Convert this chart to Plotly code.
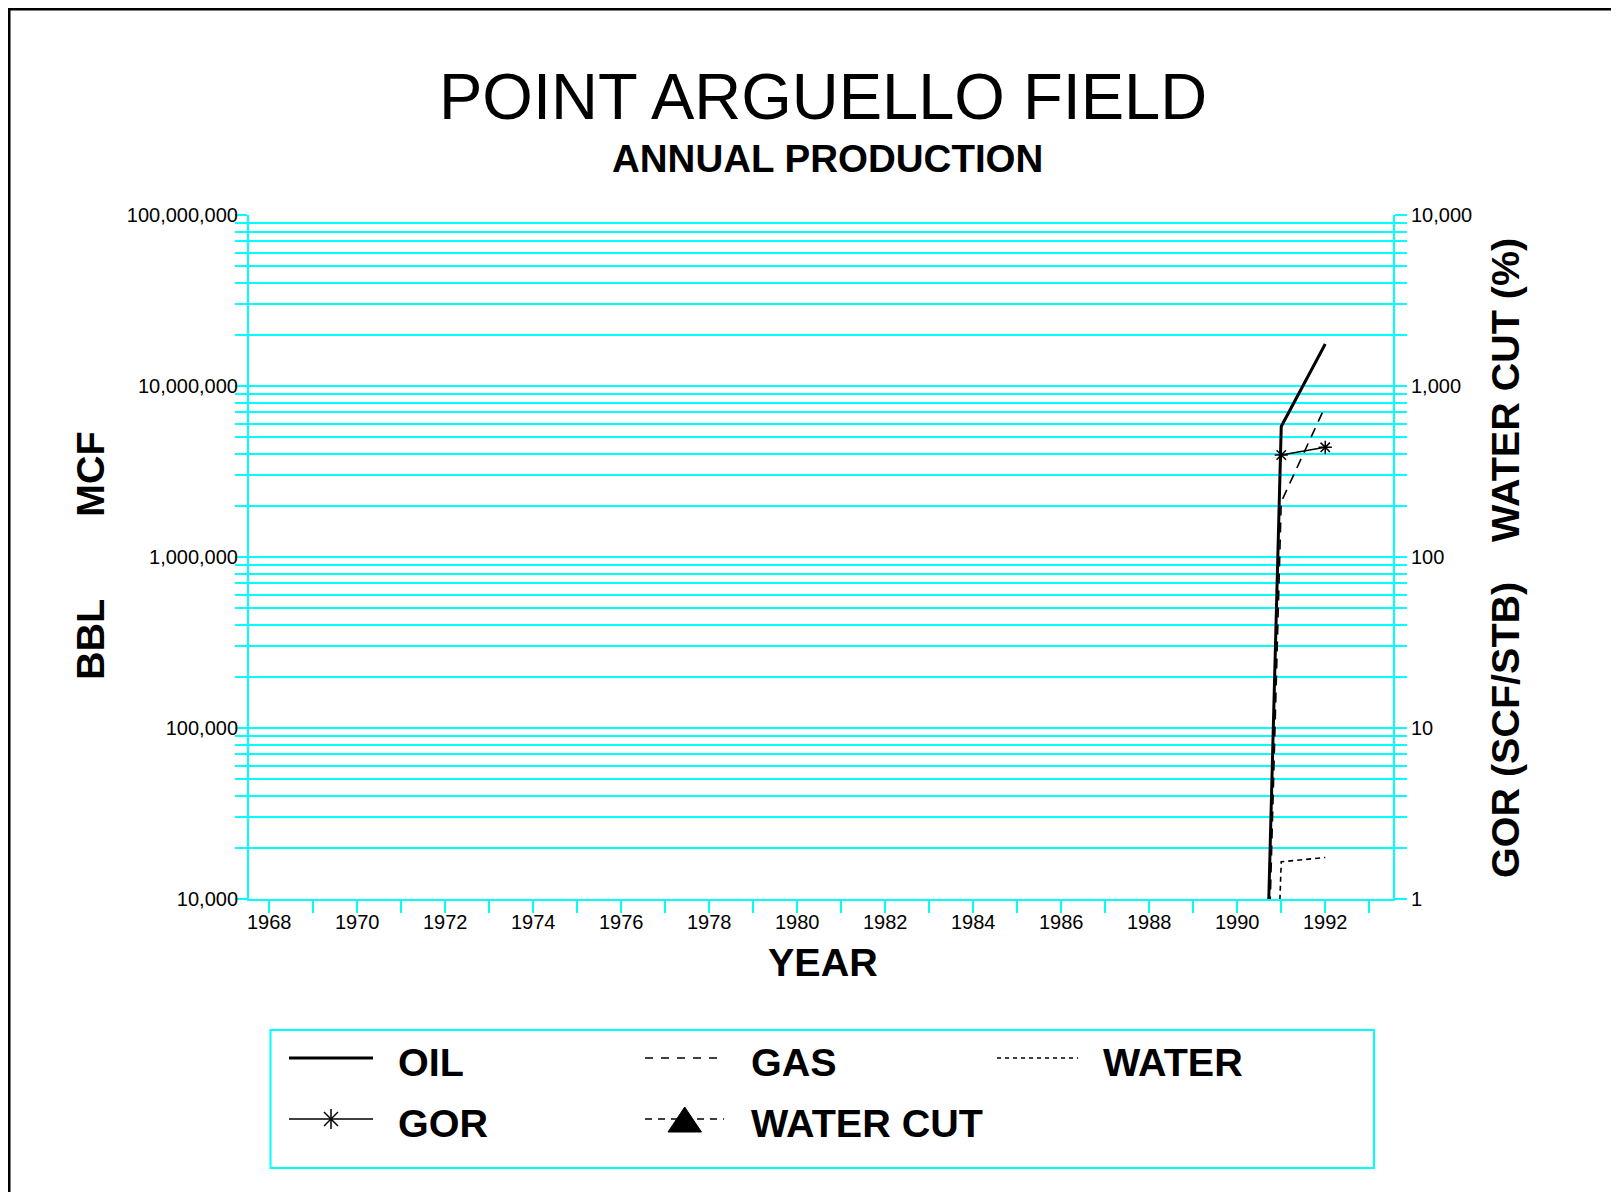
"""Point Arguello Field - annual production (log scale, dual axis)."""

import plotly.graph_objects as go

# ── Data ──
years = [1990, 1991, 1992]
oil_bbl = [0.001, 5.8e6, 1.76e7]
gas_mcf = [0.001, 2.1e6, 7.6e6]
water_bbl = [0.001, 1.65e4, 1.75e4]

gor_years = [1991, 1992]
gor_scf_stb = [395, 438]

# ── Axis ticks ──
year_ticks = list(range(1968, 1993, 2))
year_labels = [str(y) for y in year_ticks]
left_ticks = [1e4, 1e5, 1e6, 1e7, 1e8]
left_labels = ["10,000", "100,000", "1,000,000", "10,000,000", "100,000,000"]
right_ticks = [1, 10, 100, 1000, 10000]
right_labels = ["1", "10", "100", "1,000", "10,000"]
left_minor = [m * 10 ** e for e in range(4, 8) for m in range(2, 10)]
right_minor = [m * 10 ** e for e in range(0, 4) for m in range(2, 10)]

CYAN = "#00FFFF"
FONT = "Liberation Sans, Arial, sans-serif"

# plot area in page pixels (the page body adds an 8px margin)
FIG_W, FIG_H = 1619, 1192
PAGE = 8
L, R, T, B = 249, 1393, 215, 899


def px(x):
    return (x - L) / (R - L)


def py(y):
    return (B - y) / (B - T)


fig = go.Figure()

fig.add_trace(go.Scatter(
    x=years, y=oil_bbl, mode="lines", name="OIL",
    line=dict(color="black", width=3),
))
fig.add_trace(go.Scatter(
    x=years, y=gas_mcf, mode="lines", name="GAS",
    line=dict(color="black", width=1.6, dash="10px,7px"),
))
fig.add_trace(go.Scatter(
    x=years, y=water_bbl, mode="lines", name="WATER",
    line=dict(color="black", width=1.6, dash="5px,4px"),
))
fig.add_trace(go.Scatter(
    x=gor_years, y=gor_scf_stb, mode="lines+markers", name="GOR", yaxis="y2",
    line=dict(color="black", width=1.6),
    marker=dict(symbol="asterisk-open", size=11, color="black",
                line=dict(color="black", width=1.5)),
))

# ── Outer frame ──
fig.add_shape(type="rect", xref="paper", yref="paper",
              x0=px(8.5), x1=px(1660), y0=py(8.5), y1=py(1230),
              line=dict(color="black", width=4), fillcolor="rgba(0,0,0,0)")

# ── Titles ──
fig.add_annotation(x=px(823), y=py(97), xref="paper", yref="paper",
                   text="POINT ARGUELLO FIELD", showarrow=False,
                   font=dict(family=FONT, size=65, color="black"),
                   xanchor="center", yanchor="middle")
fig.add_annotation(x=px(827), y=py(158), xref="paper", yref="paper",
                   text="<b>ANNUAL PRODUCTION</b>", showarrow=False,
                   font=dict(family=FONT, size=38.5, color="black"),
                   xanchor="center", yanchor="middle")

# ── Axis titles ──
axis_titles = [
    ("YEAR", 823, 962, 0),
    ("MCF", 90, 474, -90),
    ("BBL", 90, 640, -90),
    ("WATER CUT (%)", 1505, 390, -90),
    ("GOR (SCF/STB)", 1505, 730, -90),
]
for text, x, y, ang in axis_titles:
    fig.add_annotation(x=px(x), y=py(y), xref="paper", yref="paper",
                       text=f"<b>{text}</b>", showarrow=False, textangle=ang,
                       font=dict(family=FONT, size=39.5, color="black"),
                       xanchor="center", yanchor="middle")

# ── Legend box (drawn by hand to match the original layout) ──
fig.add_shape(type="rect", xref="paper", yref="paper",
              x0=px(270.5), x1=px(1374), y0=py(1030), y1=py(1168),
              line=dict(color=CYAN, width=2), fillcolor="rgba(0,0,0,0)")

samples = [
    (289, 373, 1058, 3, "solid"),
    (289, 373, 1119, 1.5, "solid"),
    (645, 724, 1058, 1.5, "8px,8px"),
    (645, 724, 1119, 1.5, "7px,6px"),
    (997, 1078, 1058, 1.5, "4px,4px"),
]
for x0, x1, y, w, dash in samples:
    fig.add_shape(type="line", xref="paper", yref="paper",
                  x0=px(x0), x1=px(x1), y0=py(y), y1=py(y),
                  line=dict(color="black", width=w, dash=dash))

# asterisk for GOR sample
cx, cy, r = 331, 1119, 10
for dx0, dy0, dx1, dy1 in [(0, -r, 0, r), (-7, -7, 7, 7), (-7, 7, 7, -7)]:
    fig.add_shape(type="line", xref="paper", yref="paper",
                  x0=px(cx + dx0), y0=py(cy + dy0), x1=px(cx + dx1), y1=py(cy + dy1),
                  line=dict(color="black", width=1.5))

# triangle for WATER CUT sample
tri = (f"M {px(668)} {py(1132)} L {px(701.5)} {py(1132)} "
       f"L {px(684.7)} {py(1107)} Z")
fig.add_shape(type="path", xref="paper", yref="paper", path=tri,
              fillcolor="black", line=dict(color="black", width=1))

legend_labels = [
    ("OIL", 396, 1062),
    ("GOR", 396, 1123),
    ("GAS", 749, 1062),
    ("WATER CUT", 749, 1123),
    ("WATER", 1101, 1062),
]
for text, x, y in legend_labels:
    fig.add_annotation(x=px(x), y=py(y), xref="paper", yref="paper",
                       text=f"<b>{text}</b>", showarrow=False,
                       font=dict(family=FONT, size=39.5, color="black"),
                       xanchor="left", yanchor="middle")

# ── Layout ──
tick_font = dict(family=FONT, size=20, color="black")
fig.update_layout(
    width=FIG_W, height=FIG_H,
    margin=dict(l=L - PAGE, r=FIG_W - R + PAGE, t=T - PAGE, b=FIG_H - B + PAGE,
                autoexpand=False),
    paper_bgcolor="white", plot_bgcolor="white",
    showlegend=False,
    xaxis=dict(
        range=[1967.54, 1993.54], tickmode="array",
        tickvals=year_ticks, ticktext=year_labels,
        ticks="outside", ticklen=12, tickwidth=2, tickcolor=CYAN,
        minor=dict(dtick=1, tick0=1968, ticks="outside", ticklen=12,
                   tickwidth=2, tickcolor=CYAN, showgrid=False),
        showgrid=False, zeroline=False,
        showline=True, linecolor=CYAN, linewidth=2,
        tickfont=tick_font, ticklabelstandoff=-8,
    ),
    yaxis=dict(
        type="log", range=[4, 8], tickmode="array",
        tickvals=left_ticks, ticktext=left_labels,
        ticks="outside", ticklen=12, tickwidth=2, tickcolor=CYAN,
        showgrid=True, gridcolor=CYAN, gridwidth=1.5,
        minor=dict(tickmode="array", tickvals=left_minor, ticks="outside",
                   ticklen=12, tickwidth=2, tickcolor=CYAN,
                   showgrid=True, gridcolor=CYAN, gridwidth=1.5),
        showline=True, linecolor=CYAN, linewidth=2, zeroline=False,
        tickfont=tick_font, ticklabelstandoff=-7,
    ),
    yaxis2=dict(
        type="log", range=[0, 4], overlaying="y", side="right",
        tickmode="array", tickvals=right_ticks, ticktext=right_labels,
        ticks="outside", ticklen=12, tickwidth=2, tickcolor=CYAN,
        showgrid=False,
        minor=dict(tickmode="array", tickvals=right_minor, ticks="outside",
                   ticklen=12, tickwidth=2, tickcolor=CYAN, showgrid=False),
        showline=True, linecolor=CYAN, linewidth=2, zeroline=False,
        tickfont=tick_font,
    ),
)

fig.write_html("out.html")
